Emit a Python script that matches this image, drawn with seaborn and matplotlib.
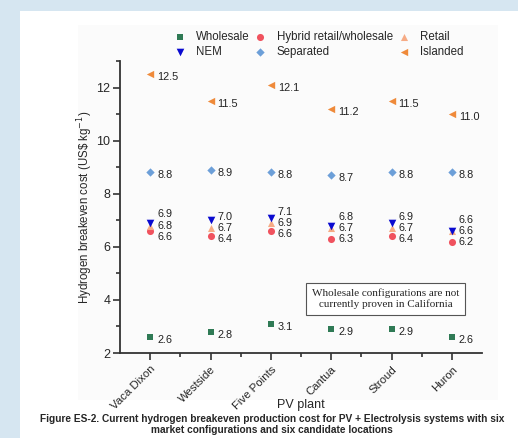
import matplotlib
matplotlib.use("Agg")
import matplotlib.pyplot as plt
import seaborn as sns
import pandas as pd
from matplotlib.patches import Rectangle

plants = ["Vaca Dixon", "Westside", "Five Points", "Cantua", "Stroud", "Huron"]
wholesale = [2.6, 2.8, 3.1, 2.9, 2.9, 2.6]
hybrid = [6.6, 6.4, 6.6, 6.3, 6.4, 6.2]
retail = [6.8, 6.7, 6.9, 6.7, 6.7, 6.6]
nem = [6.9, 7.0, 7.1, 6.8, 6.9, 6.6]
separated = [8.8, 8.9, 8.8, 8.7, 8.8, 8.8]
islanded = [12.5, 11.5, 12.1, 11.2, 11.5, 11.0]

series_names = ["Wholesale", "Hybrid retail/wholesale", "Retail", "NEM", "Separated", "Islanded"]
series_vals = [wholesale, hybrid, retail, nem, separated, islanded]
colors = {"Wholesale": "#2f7a55", "Hybrid retail/wholesale": "#f0525e", "Retail": "#f6ab85",
          "NEM": "#0a0ad0", "Separated": "#6c9fd8", "Islanded": "#ef8a3a"}
markers = {"Wholesale": "s", "Hybrid retail/wholesale": "o", "Retail": "^",
           "NEM": "v", "Separated": "D", "Islanded": "<"}
sizes = {"Wholesale": 16, "Hybrid retail/wholesale": 26, "Retail": 26,
         "NEM": 30, "Separated": 18, "Islanded": 28}

rows = []
for name, vals in zip(series_names, series_vals):
    for i, (p, v) in enumerate(zip(plants, vals)):
        rows.append({"plant": p, "pos": i + 1, "series": name, "value": v})
df = pd.DataFrame(rows)

sns.set_theme(style="ticks")
plt.rcParams["font.family"] = ["Liberation Sans", "DejaVu Sans"]

fig = plt.figure(figsize=(5.18, 4.38), dpi=100)
fig.patch.set_facecolor("#d6e6f1")
fig.patches.append(Rectangle((20 / 518, 0), 1, 1 - 11 / 438, transform=fig.transFigure,
                             facecolor="white", edgecolor="none", zorder=-10))
fig.patches.append(Rectangle((78 / 518, 38 / 438), 420 / 518, 375 / 438, transform=fig.transFigure,
                             facecolor="#fbfbfb", edgecolor="none", zorder=-9))

ax = fig.add_axes([120 / 518, 1 - 353 / 438, 362 / 518, 292 / 438])
ax.set_facecolor("none")

for name in series_names:
    sub = df[df.series == name]
    sns.scatterplot(data=sub, x="pos", y="value", ax=ax, color=colors[name],
                    marker=markers[name], s=sizes[name], linewidth=0, label=name, zorder=3)

# value labels
lab = dict(textcoords="offset points", ha="left", va="center", fontsize=7.8, color="#222222")
for i in range(len(plants)):
    x = i + 1
    for vals in (wholesale, separated, islanded):
        ax.annotate(f"{vals[i]:.1f}", xy=(x, vals[i]), xytext=(5, -2), **lab)
    ax.annotate(f"{nem[i]:.1f}", xy=(x, retail[i]), xytext=(5, 8), **lab)
    ax.annotate(f"{retail[i]:.1f}", xy=(x, retail[i]), xytext=(5, 0), **lab)
    ax.annotate(f"{hybrid[i]:.1f}", xy=(x, retail[i]), xytext=(5, -8), **lab)

ax.set_xlim(0.5, 6.5)
ax.set_ylim(2, 13)
ax.set_xticks(range(1, 7))
ax.set_xticklabels(plants, rotation=45, ha="right", va="top", rotation_mode="anchor", fontsize=8.2)
ax.set_xticks([1.5, 2.5, 3.5, 4.5, 5.5], minor=True)
ax.set_yticks([2, 4, 6, 8, 10, 12])
ax.set_yticks([3, 5, 7, 9, 11, 13], minor=True)
ax.tick_params(axis="both", which="major", length=5, width=1.2, color="#333333", direction="out")
ax.tick_params(axis="y", which="major", labelsize=9, pad=2)
ax.tick_params(axis="both", which="minor", length=3, width=1.2, color="#333333", direction="out")
ax.tick_params(axis="x", which="major", pad=3)
for s in ("top", "right"):
    ax.spines[s].set_visible(False)
for s in ("left", "bottom"):
    ax.spines[s].set_color("#333333")
    ax.spines[s].set_linewidth(1.3)

ax.set_xlabel("PV plant", fontsize=9)
ax.xaxis.set_label_coords(0.5, -0.178)
ax.xaxis.label.set_va("center")
ax.set_ylabel("Hydrogen breakeven cost (US\\$ kg$^{-1}$)", fontsize=8.3)
ax.yaxis.set_label_coords(-0.097, 0.5)
ax.yaxis.label.set_va("center")

ax.text(4.9, 4.05, "Wholesale configurations are not\ncurrently proven in California",
        ha="center", va="center", fontsize=8, family=["Liberation Serif", "DejaVu Serif"],
        bbox=dict(boxstyle="square,pad=0.5", facecolor="white", edgecolor="#555555", linewidth=0.8))

h, l = ax.get_legend_handles_labels()
if ax.get_legend():
    ax.get_legend().remove()
order = [0, 3, 1, 4, 2, 5]
fig.legend([h[k] for k in order], [l[k] for k in order], ncol=3, loc="upper left",
           bbox_to_anchor=(174 / 518, 1 - 31 / 438), frameon=False, fontsize=8.3,
           handletextpad=0.9, columnspacing=0.45, labelspacing=0.3, handlelength=1.0,
           borderaxespad=0, borderpad=0)

fig.text(272 / 518, 1 - 414 / 438,
         "Figure ES-2. Current hydrogen breakeven production cost for PV + Electrolysis systems with six\n"
         "market configurations and six candidate locations",
         ha="center", va="top", fontsize=7.3, fontweight="bold", linespacing=1.15)

fig.savefig("out.png", dpi=100, facecolor=fig.get_facecolor())
